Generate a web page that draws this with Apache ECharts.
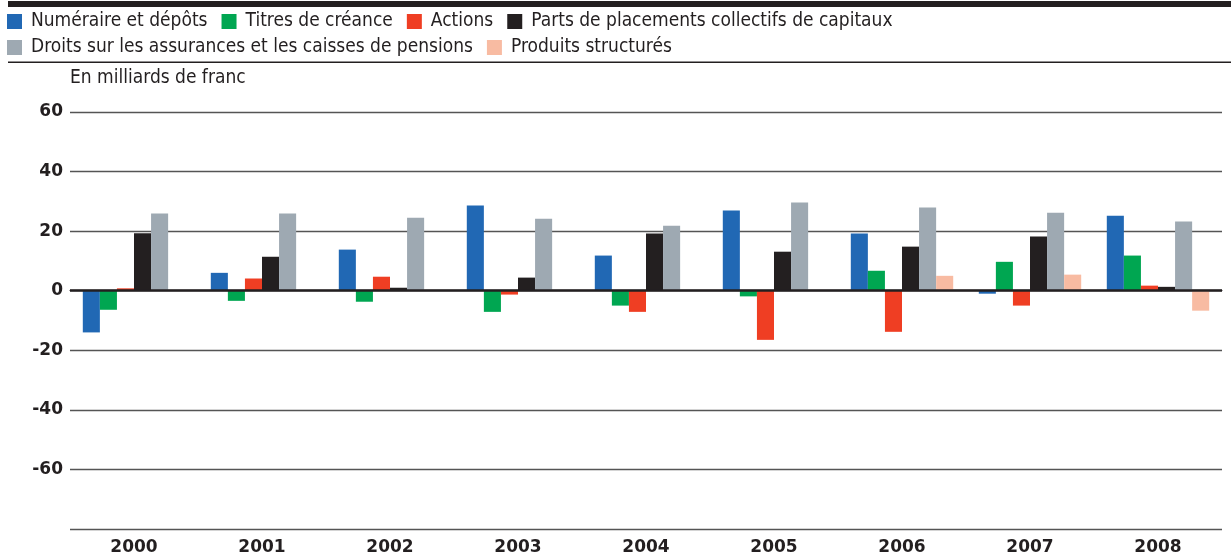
<!DOCTYPE html>
<html>
<head>
<meta charset="utf-8">
<script src="https://cdn.jsdelivr.net/npm/echarts@6/dist/echarts.min.js"></script>
<style>
  html, body { margin: 0; padding: 0; background: #fff; }
  #chart { width: 1231px; height: 560px; }
</style>
</head>
<body>
<div id="chart"></div>
<script>
// années
const years = ['2000', '2001', '2002', '2003', '2004', '2005', '2006', '2007', '2008'];
// en milliards de franc
const numeraire = [-14.0, 6.0, 13.8, 28.6, 11.8, 26.9, 19.2, -1.0, 25.2];
const titres = [-6.4, -3.4, -3.7, -7.1, -5.0, -1.9, 6.7, 9.7, 11.8];
const actions = [0.8, 4.1, 4.7, -1.3, -7.1, -16.5, -13.8, -5.0, 1.7];
const placements = [19.3, 11.4, 1.0, 4.4, 19.2, 13.1, 14.8, 18.2, 1.3];
const assurances = [25.9, 25.9, 24.5, 24.2, 21.8, 29.6, 27.9, 26.2, 23.2];
const structures = [0, 0, 0, 0, 0, 0, 5.0, 5.4, -6.7];
const yTicks = [-60, -40, -20, 0, 20, 40, 60];

const font = '"Liberation Sans Narrow", "DejaVu Sans Condensed", sans-serif';
const dark = '#231f20';

const chart = echarts.init(document.getElementById('chart'));

function bar(name, data, color) {
  return {
    name: name,
    type: 'bar',
    data: data,
    barGap: 0,
    barCategoryGap: '20%',
    itemStyle: { color: color },
    animation: false
  };
}

const series = [
  bar('Numéraire et dépôts', numeraire, '#2168b4'),
  bar('Titres de créance', titres, '#00a651'),
  bar('Actions', actions, '#ef3e23'),
  bar('Parts de placements collectifs de capitaux', placements, dark),
  bar('Droits sur les assurances et les caisses de pensions', assurances, '#9ea9b2'),
  bar('Produits structurés', structures, '#f8bba2')
];
// ligne zéro
series[0].markLine = {
  silent: true,
  symbol: 'none',
  label: { show: false },
  lineStyle: { color: dark, width: 2.5, type: 'solid' },
  data: [{ yAxis: 0 }]
};

const legendBase = {
  left: 7,
  padding: 0,
  itemWidth: 15,
  itemHeight: 15,
  itemGap: 14,
  icon: 'rect',
  selectedMode: false,
  textStyle: { fontFamily: font, fontSize: 19, color: dark, padding: [0, 0, 0, 4] }
};

chart.setOption({
  backgroundColor: '#fff',
  legend: [
    Object.assign({}, legendBase, {
      top: 12,
      data: series.slice(0, 4).map(s => s.name)
    }),
    Object.assign({}, legendBase, {
      top: 38,
      data: series.slice(4).map(s => s.name)
    })
  ],
  graphic: [
    { type: 'rect', left: 8, top: 1, shape: { width: 1223, height: 6 }, style: { fill: dark } },
    { type: 'rect', left: 8, top: 61.5, shape: { width: 1223, height: 1.5 }, style: { fill: dark } },
    {
      type: 'text', left: 70, top: 69,
      style: { text: 'En milliards de franc', font: '19px ' + font, fill: dark }
    }
  ],
  grid: { left: 70, right: 9, top: 112, bottom: 31 },
  xAxis: {
    type: 'category',
    data: years,
    axisLine: { lineStyle: { color: dark, width: 1 } },
    axisTick: { inside: true, length: 8, lineStyle: { color: dark } },
    axisLabel: {
      fontFamily: 'DejaVu Sans', fontWeight: 'bold', fontSize: 17,
      color: dark, margin: 10
    }
  },
  yAxis: {
    type: 'value',
    min: -80,
    max: 60,
    interval: 20,
    axisLine: { show: false },
    axisTick: { show: false },
    axisLabel: {
      fontFamily: 'DejaVu Sans', fontWeight: 'bold', fontSize: 17,
      color: dark, margin: 7,
      formatter: v => (yTicks.indexOf(v) >= 0 ? String(v) : '')
    },
    splitLine: { lineStyle: { color: '#555', width: 1.3 } }
  },
  series: series
});
</script>
</body>
</html>
